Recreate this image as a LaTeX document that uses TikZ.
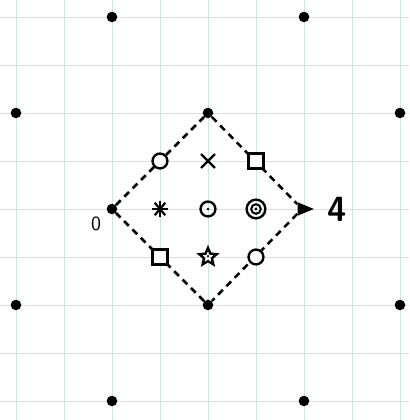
\documentclass[tikz,border=0pt]{standalone}
\usepackage{xcolor}
\usepackage{tikz}
\usetikzlibrary{shapes.geometric,shapes.misc}

\definecolor{paper}{RGB}{200,232,225}

\begin{document}
\begin{tikzpicture}[
  gridline/.style={paper, line width=0.45pt},
  bead/.style={circle, fill=black, inner sep=0pt, minimum size=2.2mm},
  edge/.style={line width=1.5pt, dash pattern=on 4pt off 3pt},
  pen/.style={draw, line width=1.4pt, inner sep=0pt},
  ringdot/.style={pen, circle, minimum size=3.1mm,
    path picture={\fill (path picture bounding box.center) circle (0.8pt);}},
  boxdot/.style={pen, rectangle, minimum size=3.1mm,
    path picture={\fill (path picture bounding box.center) circle (0.8pt);}},
  spiral/.style={pen, circle, minimum size=3.9mm,
    path picture={\draw[line width=1.2pt] (path picture bounding box.center) circle (1mm);
                  \fill (path picture bounding box.center) circle (0.9pt);}},
  cross/.style={pen, cross out, minimum size=2.4mm},
  burst/.style={circle, inner sep=0pt, minimum size=3.6mm,
    path picture={\foreach \a in {0,50,90,130}
      \draw[line width=1.3pt] (path picture bounding box.center) ++(\a:1.7mm) -- ++(\a+180:3.4mm);}},
  starry/.style={pen, star, star points=5, star point ratio=2.2, minimum size=3.8mm,
    path picture={\fill (path picture bounding box.center) circle (0.8pt);}},
  tip/.style={isosceles triangle, fill=black, inner sep=0pt, minimum height=2.6mm, minimum width=2.8mm}
]
  \useasboundingbox (-4.333,-4.396) rectangle (4.188,4.354);
  \draw[gridline] (-4.333,-4.396) grid (4.188,4.354);

  \foreach \name/\x/\y in {o1/-2/4, o2/2/4, o3/-4/2, o4/4/2, o5/-4/-2, o6/4/-2, o7/-2/-4, o8/2/-4} {
    \node[bead] (\name) at (\x,\y) {};
  }

  \node[bead] (start) at (-2,0) {};
  \node[bead] (top) at (0,2) {};
  \node[bead] (bottom) at (0,-2) {};
  \node[tip] (end) at (1.96,0) {};

  \draw[edge] (start) -- (top);
  \draw[edge] (top) -- (end);
  \draw[edge] (end) -- (bottom);
  \draw[edge] (bottom) -- (start);

  \node[ringdot, fill=white] (nw) at (-1,1) {};
  \node[cross] (n) at (0,1) {};
  \node[boxdot, fill=white] (ne) at (1,1) {};
  \node[burst] (w) at (-1,0) {};
  \node[ringdot] (c) at (0,0) {};
  \node[spiral] (e) at (1,0) {};
  \node[boxdot, fill=white] (sw) at (-1,-1) {};
  \node[starry] (s) at (0,-1) {};
  \node[ringdot, fill=white] (se) at (1,-1) {};

  \node[font=\sffamily\large] (lblzero) at (-2.33,-0.32) {0};
  \node[font=\sffamily\bfseries\huge] (lblfour) at (2.7,0) {4};
\end{tikzpicture}
\end{document}
